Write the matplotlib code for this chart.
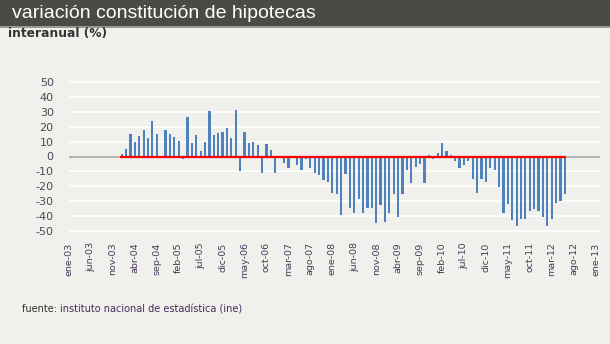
import matplotlib
matplotlib.use("Agg")
import matplotlib.pyplot as plt
from matplotlib.patches import Rectangle
import numpy as np

# ---- data (interanual % variation, monthly, Jan 2004 - Jun 2012) ----
start_year = 2004
v2004 = [2, 4.7, 15.2, 9.6, 13.8, 18, 12.7, 23.7, 15.2, -1, 18, 15.2]
v2005 = [13.4, 10.3, -1.5, 26.8, 9.2, 14.5, 3.6, 9.6, 30.6, 14.5, 15.8, 16.5]
v2006 = [18.8, 12.7, 31.3, -9.8, 16.5, 9.2, 9.8, 7.8, -11.2, 8.5, 4.2, -11.2]
v2007 = [0, -4.5, -8, -0.5, -5.8, -9.2, -1.6, -7.6, -11.2, -12.5, -15.8, -17.2]
v2008 = [-24.6, -25.2, -39.3, -11.6, -34.8, -38.2, -28.8, -38.2, -34.8, -34.4, -44.4, -32.6]
v2009 = [-44, -38.2, -25.2, -40.8, -25.2, -9.2, -17.9, -6.9, -4.9, -17.9, 1.1, -1.6]
v2010 = [2.5, 9.2, 3.6, 1.1, -3.1, -8, -6, -3.1, -15.4, -24.6, -15.4, -17.2]
v2011 = [-8, -9.2, -20.3, -38.2, -32.1, -42.4, -46.4, -41.7, -41.7, -36.8, -35.5, -36.4]
v2012 = [-40.8, -46.4, -41.7, -31.3, -30.1, -25.2]
values = v2004 + v2005 + v2006 + v2007 + v2008 + v2009 + v2010 + v2011 + v2012

tick_labels = ['ene-03', 'jun-03', 'nov-03', 'abr-04', 'sep-04', 'feb-05', 'jul-05',
               'dic-05', 'may-06', 'oct-06', 'mar-07', 'ago-07', 'ene-08', 'jun-08',
               'nov-08', 'abr-09', 'sep-09', 'feb-10', 'jul-10', 'dic-10', 'may-11',
               'oct-11', 'mar-12', 'ago-12', 'ene-13']
y_ticks = [50, 40, 30, 20, 10, 0, -10, -20, -30, -40, -50]

title = "variación constitución de hipotecas"
subtitle = "interanual (%)"
source_a = "fuente:"
source_b = "instituto nacional de estadística (ine)"

# ---- figure ----
W, H = 610, 344
bg = '#f0f0ec'
fig = plt.figure(figsize=(W / 100, H / 100), dpi=100, facecolor=bg)

# title band
fig.patches.append(Rectangle((0, (H - 26) / H), 1, 26 / H, transform=fig.transFigure,
                             facecolor='#4b4b46', edgecolor='none', zorder=0))
fig.patches.append(Rectangle((0, (H - 28) / H), 1, 2 / H, transform=fig.transFigure,
                             facecolor='#9a9a94', edgecolor='none', zorder=0))
fig.text(12 / W, 1 - 13 / H, title, color='white', fontsize=14,
         family='Liberation Sans', va='center', ha='left')
fig.text(8 / W, 1 - 34 / H, subtitle, color='#333333', fontsize=8.8, fontweight='bold',
         family='DejaVu Sans', va='center', ha='left')

# axes: month index 0 = ene-03
px_left, px_right = 69, 600
y_top_px, y_bot_px = 79, 234
ax = fig.add_axes([px_left / W, (H - y_bot_px) / H, (px_right - px_left) / W,
                   (y_bot_px - y_top_px) / H])
ax.set_facecolor(bg)

x0 = (start_year - 2003) * 12
x = np.arange(x0, x0 + len(values))
ax.set_xlim(0, 121)
ax.set_ylim(-52, 52)

for yv in y_ticks:
    if yv != 0:
        ax.axhline(yv, color='white', lw=1.2, zorder=1)
ax.axhline(0, color='#b4b4b0', lw=1.5, zorder=1)

ax.bar(x, values, width=0.5, color='#4F81BD', zorder=2)
ax.hlines(0, x[0] - 0.4, x[-1] + 0.3, color='#ff0000', lw=1.6, zorder=3)

ax.set_yticks(y_ticks)
ax.set_yticklabels([str(v) for v in y_ticks], fontsize=8, color='#4a4a5a')
ax.set_xticks(np.arange(0, 5 * len(tick_labels), 5))
ax.set_xticklabels(tick_labels, rotation=90, fontsize=6.8, color='#4a3a5a')
ax.tick_params(length=0, axis='y', pad=11)
ax.tick_params(length=0, axis='x', pad=6)
for s in ax.spines.values():
    s.set_visible(False)

t = fig.text(22 / W, 1 - 309 / H, source_a + " ", color='#333333', fontsize=7,
             va='center', ha='left')
fig.canvas.draw()
bb = t.get_window_extent()
fig.text(bb.x1 / W, 1 - 309 / H, source_b, color='#4a2a5a', fontsize=7,
         va='center', ha='left')

fig.savefig('out.png', dpi=100, facecolor=bg)
